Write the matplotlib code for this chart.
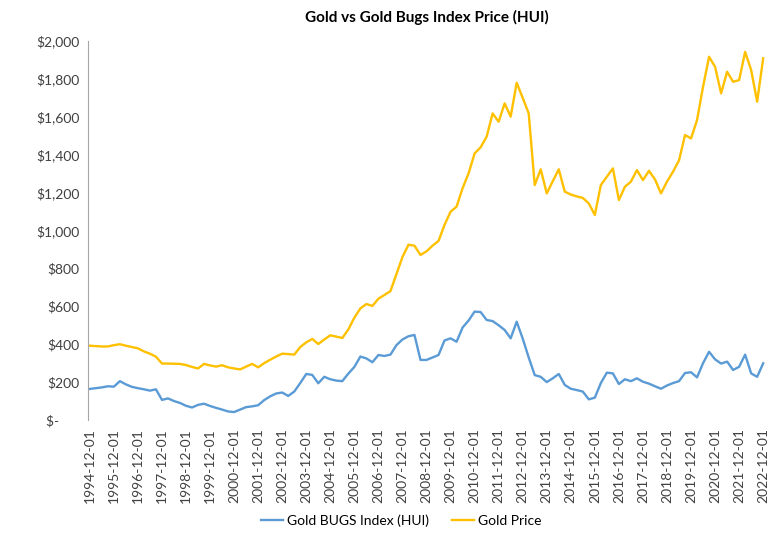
import matplotlib
matplotlib.use('Agg')

import numpy as np
import matplotlib.pyplot as plt

# ------------------------------------------------------------
# DATA (quarterly)
# ------------------------------------------------------------

quarter_months = ['03', '06', '09', '12']

dates = ['1994-12-01'] + [
    f"{y}-{m}-01" for y in range(1995, 2023) for m in quarter_months
]

gold_price = [
    392, 390, 388, 388, 395, 400, 392, 385, 378, 362,
    350, 334, 298, 298, 297, 296, 290, 280, 272, 296,
    288, 282, 289, 278, 272, 267, 282, 296, 278, 300,
    318, 335, 350, 348, 345, 385, 410, 428, 401, 425,
    447, 440, 433, 478, 540, 589, 612, 602, 640, 660,
    680, 770, 860, 925, 920, 871, 890, 920, 945, 1030,
    1099, 1126, 1223, 1302, 1407, 1439, 1495, 1618, 1574, 1671,
    1601, 1780, 1700, 1618, 1240, 1323, 1196, 1260, 1323, 1205,
    1190, 1180, 1172, 1143, 1082, 1240, 1284, 1328, 1161, 1231,
    1258, 1319, 1266, 1315, 1270, 1196, 1258, 1310, 1370, 1504,
    1486, 1583, 1759, 1917, 1864, 1724, 1838, 1785, 1794, 1943,
    1847, 1680, 1909,
]

hui_index = [
    164, 168, 172, 178, 176, 205, 188, 175, 168, 162,
    155, 162, 106, 114, 100, 90, 75, 66, 80, 86,
    74, 64, 55, 45, 42, 55, 68, 72, 78, 105,
    125, 140, 145, 127, 150, 195, 243, 238, 194, 228,
    215, 208, 205, 245, 280, 335, 325, 305, 343, 338,
    345, 395, 425, 442, 449, 317, 317, 330, 343, 420,
    431, 413, 488, 525, 572, 570, 528, 522, 500, 475,
    431, 519, 430, 330, 237, 228, 200, 220, 243, 185,
    165, 158, 150, 109, 118, 195, 250, 246, 190, 215,
    205, 220, 202, 192, 178, 165, 182, 195, 205, 248,
    252, 225, 300, 360, 320, 298, 308, 264, 281, 345,
    246, 228, 299,
]

y_ticks = [0, 200, 400, 600, 800, 1000, 1200, 1400, 1600, 1800, 2000]

y_labels = ['$-      ', '$200', '$400', '$600', '$800', '$1,000',
            '$1,200', '$1,400', '$1,600', '$1,800', '$2,000']

# ------------------------------------------------------------
# PLOT
# ------------------------------------------------------------

plt.rcParams['font.family'] = ['Lato', 'DejaVu Sans']

fig = plt.figure(figsize=(7.79, 5.33), dpi=100)

ax = fig.add_axes([0.113, 0.212, 0.869, 0.711])

x = np.arange(len(dates))

ax.plot(x, hui_index, color='#5B9BD5', linewidth=1.7,
        label='Gold BUGS Index (HUI)')

ax.plot(x, gold_price, color='#FFC000', linewidth=1.7,
        label='Gold Price')

ax.set_xlim(-0.3, len(dates) - 0.7)
ax.set_ylim(0, 2000)

ax.set_yticks(y_ticks)
ax.set_yticklabels(y_labels, fontsize=10)

tick_idx = [i for i, d in enumerate(dates) if d.endswith('-12-01')]
ax.set_xticks(tick_idx)
ax.set_xticklabels([dates[i] for i in tick_idx], rotation=90, fontsize=10)

ax.tick_params(axis='both', length=0, pad=6, colors='#404040')

for side in ['top', 'right', 'bottom']:
    ax.spines[side].set_visible(False)
ax.spines['left'].set_color('#A6A6A6')

ax.set_title('Gold vs Gold Bugs Index Price (HUI)',
             fontsize=11, fontweight='bold', pad=14)

fig.legend(loc='lower center', ncol=2, frameon=False, fontsize=10,
           bbox_to_anchor=(0.515, -0.012), handlelength=1.6,
           handletextpad=0.3, columnspacing=1.6)

plt.savefig('out.png', dpi=100)
